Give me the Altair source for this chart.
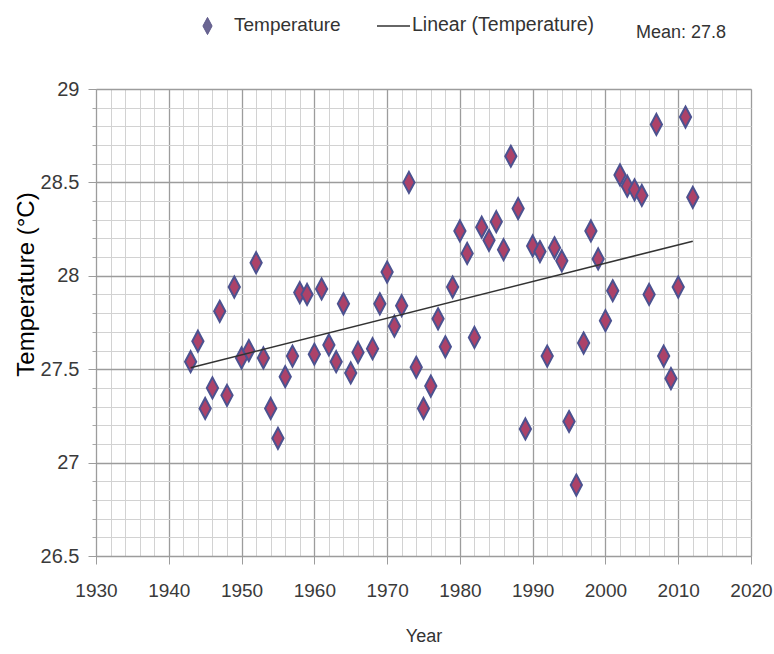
import altair as alt
import pandas as pd

# ---- data ----
years = [1943, 1944, 1945, 1946, 1947, 1948, 1949, 1950, 1951, 1952,
         1953, 1954, 1955, 1956, 1957, 1958, 1959, 1960, 1961, 1962,
         1963, 1964, 1965, 1966, 1968, 1969, 1970, 1971, 1972, 1973,
         1974, 1975, 1976, 1977, 1978, 1979, 1980, 1981, 1982, 1983,
         1984, 1985, 1986, 1987, 1988, 1989, 1990, 1991, 1992, 1993,
         1994, 1995, 1996, 1997, 1998, 1999, 2000, 2001, 2002, 2003,
         2004, 2005, 2006, 2007, 2008, 2009, 2010, 2011, 2012]
temps = [27.54, 27.65, 27.29, 27.40, 27.81, 27.36, 27.94, 27.56, 27.60, 28.07,
         27.56, 27.29, 27.13, 27.46, 27.57, 27.91, 27.90, 27.58, 27.93, 27.63,
         27.54, 27.85, 27.48, 27.59, 27.61, 27.85, 28.02, 27.73, 27.84, 28.50,
         27.51, 27.29, 27.41, 27.77, 27.62, 27.94, 28.24, 28.12, 27.67, 28.26,
         28.19, 28.29, 28.14, 28.64, 28.36, 27.18, 28.16, 28.13, 27.57, 28.15,
         28.08, 27.22, 26.88, 27.64, 28.24, 28.09, 27.76, 27.92, 28.54, 28.48,
         28.46, 28.43, 27.90, 28.81, 27.57, 27.45, 27.94, 28.85, 28.42]

x_major = [1930, 1940, 1950, 1960, 1970, 1980, 1990, 2000, 2010, 2020]
x_minor = [y for y in range(1930, 2021, 2) if y % 10 != 0]
y_major = [26.5, 27.0, 27.5, 28.0, 28.5, 29.0]
y_minor = [round(26.5 + 0.1 * i, 1) for i in range(26) if i % 5 != 0]

legend_labels = ["Temperature", "Linear (Temperature)"]
mean_label = "Mean: 27.8"
x_title = "Year"
y_title = "Temperature (°C)"

df = pd.DataFrame({"Year": years, "Temperature": temps})
one = pd.DataFrame({"k": [0]})

FONT = "Liberation Sans, Arial, sans-serif"
xscale = alt.Scale(domain=[1930, 2020], nice=False, zero=False)
yscale = alt.Scale(domain=[26.5, 29], nice=False, zero=False)

diamond = "M0,-1.4L0.75,0L0,1.4L-0.75,0Z"

# minor grid layer
minor = alt.Chart(df).mark_point(opacity=0).encode(
    x=alt.X("Year:Q", scale=xscale,
            axis=alt.Axis(values=x_minor, orient="bottom", grid=True,
                          gridColor="#d2d2d2", gridWidth=1, labels=False,
                          ticks=False, domain=False, title=None)),
    y=alt.Y("Temperature:Q", scale=yscale,
            axis=alt.Axis(values=y_minor, orient="left", grid=True,
                          gridColor="#d2d2d2", gridWidth=1, labels=False,
                          ticks=True, tickSize=4, tickColor="#a8a8a8",
                          domain=False, title=None)),
)

points = alt.Chart(df).mark_point(
    shape=diamond, size=225, filled=True, fill="#ac4269",
    stroke="#4c5290", strokeWidth=2, opacity=1
).encode(
    x=alt.X("Year:Q", scale=xscale,
            axis=alt.Axis(values=x_major, orient="bottom", grid=True,
                          gridColor="#9c9c9c", gridWidth=1.3,
                          tickSize=8, tickColor="#9c9c9c", domainColor="#9c9c9c",
                          labelFont=FONT, labelFontSize=19, labelColor="#3a3a3a",
                          labelPadding=17, format="d",
                          labelFlush=False, labelOverlap=False,
                          title=x_title, titleFont=FONT, titleFontSize=18,
                          titleFontWeight="normal", titleColor="#333333",
                          titleY=80, titleBaseline="middle")),
    y=alt.Y("Temperature:Q", scale=yscale,
            axis=alt.Axis(values=y_major, orient="left", grid=True,
                          gridColor="#9c9c9c", gridWidth=1.3,
                          tickSize=8, tickColor="#9c9c9c", domainColor="#9c9c9c",
                          labelFont=FONT, labelFontSize=20, labelColor="#3a3a3a",
                          labelPadding=9, format="~g",
                          labelFlush=False, labelOverlap=False,
                          title=y_title, titleFont=FONT, titleFontSize=24,
                          titleFontWeight="normal", titleColor="#000000",
                          titleX=-70, titleY=195, titleAngle=270,
                          titleAlign="center", titleBaseline="middle")),
)

trend = alt.Chart(df).transform_regression("Year", "Temperature").mark_line(
    color="#333333", strokeWidth=1.6
).encode(
    x=alt.X("Year:Q", scale=xscale, axis=None),
    y=alt.Y("Temperature:Q", scale=yscale, axis=None),
)

# manual legend above the plot
leg_sym = alt.Chart(one).mark_point(
    shape=diamond, size=150, filled=True, fill="#6a6592", stroke="#5e5a8a",
    strokeWidth=1, opacity=1
).encode(x=alt.value(111.5), y=alt.value(-63))
leg_line = alt.Chart(one).mark_rule(color="#333333", strokeWidth=1.5).encode(
    x=alt.value(281), x2=alt.value(314), y=alt.value(-63))
leg_t1 = alt.Chart(one).mark_text(
    font=FONT, fontSize=19, color="#333333", align="left", baseline="middle"
).encode(x=alt.value(138), y=alt.value(-64), text=alt.value(legend_labels[0]))
leg_t2 = alt.Chart(one).mark_text(
    font=FONT, fontSize=19.5, color="#333333", align="left", baseline="middle"
).encode(x=alt.value(316), y=alt.value(-64), text=alt.value(legend_labels[1]))
mean_t = alt.Chart(one).mark_text(
    font=FONT, fontSize=18, color="#333333", align="left", baseline="middle"
).encode(x=alt.value(540), y=alt.value(-56), text=alt.value(mean_label))

chart = alt.layer(minor, points, trend, leg_sym, leg_line, leg_t1, leg_t2, mean_t).resolve_axis(
    x="independent", y="independent"
).properties(
    width=655, height=467,
    autosize=alt.AutoSizeParams(type="none"),
    padding={"left": 96, "top": 89, "right": 23, "bottom": 98},
).configure_view(
    stroke="#9c9c9c", strokeWidth=1.3
).configure(background="white")

chart.save("out.html", embed_options={"renderer": "svg", "actions": False})
